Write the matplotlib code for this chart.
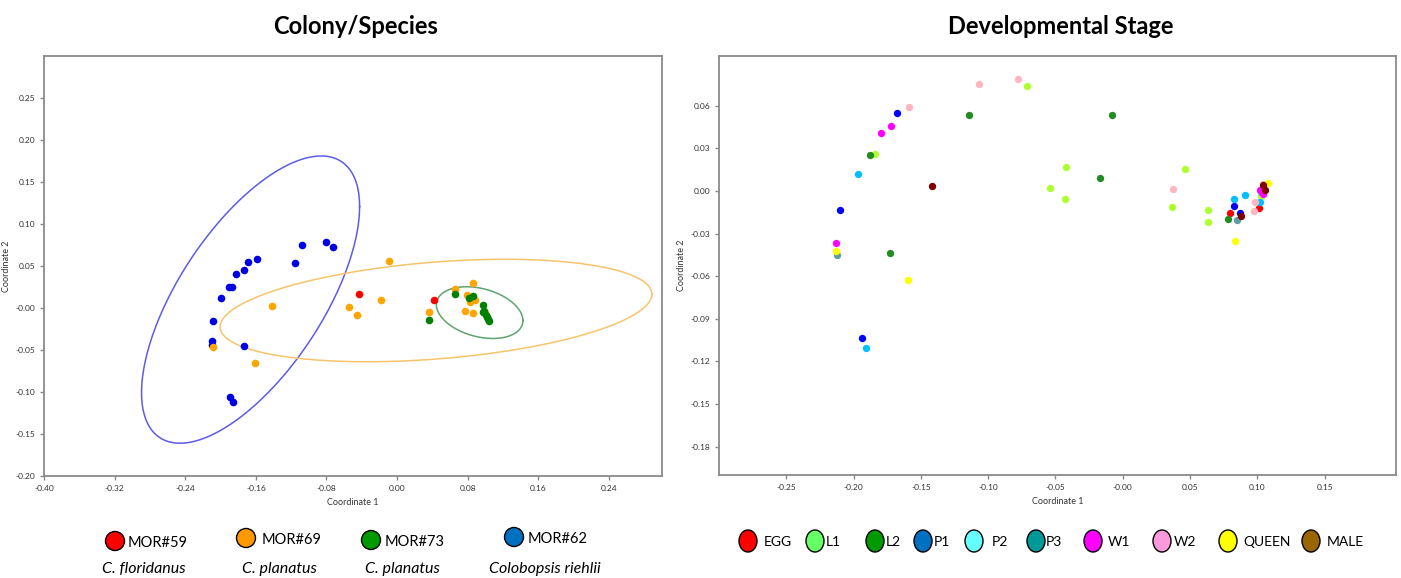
import numpy as np
import matplotlib
matplotlib.use("Agg")
import matplotlib.pyplot as plt
from matplotlib.patches import Ellipse

plt.rcParams['axes.unicode_minus'] = False
plt.rcParams['font.family'] = ['Lato', 'DejaVu Sans']

# ---- Colony/Species (left panel) ----
mor59_x = [-0.0435, 0.0413]
mor59_y = [0.0167, 0.010]
mor69_x = [-0.142, -0.208, -0.161, -0.0088, -0.0178, -0.054, -0.0453, 0.0357,
           0.065, 0.0858, 0.079, 0.082, 0.088, 0.0768, 0.0854, 0.099]
mor69_y = [0.0024, -0.047, -0.065, 0.056, 0.0095, 0.0008, -0.0079, -0.0043,
           0.023, 0.0294, 0.016, 0.007, 0.009, -0.004, -0.006, -0.006]
mor73_x = [0.065, 0.0357, 0.081, 0.0862, 0.0975, 0.0986, 0.097, 0.1006,
           0.1013, 0.103, 0.1043]
mor73_y = [0.0163, -0.0146, 0.0115, 0.014, 0.003, -0.003, -0.0048, -0.0087,
           -0.0107, -0.0127, -0.0155]
mor62_x = [-0.108, -0.080, -0.073, -0.116, -0.159, -0.169, -0.173, -0.182,
           -0.187, -0.191, -0.199, -0.208, -0.210, -0.210, -0.174, -0.189, -0.186]
mor62_y = [0.075, 0.078, 0.073, 0.0536, 0.058, 0.055, 0.0456, 0.041,
           0.025, 0.025, 0.0115, -0.0155, -0.039, -0.044, -0.045, -0.106, -0.112]

# 95% ellipses: centre and covariance
ell62_c = [-0.166, 0.010]
ell62_cov = [[0.01525, 0.01368], [0.01368, 0.02924]]
ell69_c = [0.044, -0.003]
ell69_cov = [[0.0598, 0.00477], [0.00477, 0.00372]]
ell73_c = [0.0935, -0.0055]
ell73_cov = [[0.0024, -0.00046], [-0.00046, 0.000949]]

# ---- Developmental stage (right panel) ----
egg_x = [0.0799, 0.101]
egg_y = [-0.0157, -0.012]
l1_x = [-0.1843, -0.0714, -0.042, -0.0539, -0.0432, 0.0462, 0.0368, 0.0635, 0.0635, 0.103]
l1_y = [0.0258, 0.0742, 0.0172, 0.0024, -0.0054, 0.0153, -0.011, -0.0134, -0.0218, -0.0035]
l2_x = [-0.1876, -0.173, -0.1143, -0.008, -0.0169, 0.078]
l2_y = [0.0251, -0.0434, 0.0538, 0.0533, 0.0089, -0.0201]
p1_x = [-0.168, -0.210, -0.1938, 0.0824, 0.0873]
p1_y = [0.055, -0.0134, -0.1037, -0.0108, -0.0155]
p2_x = [-0.1967, -0.1908, 0.0829, 0.091, 0.102]
p2_y = [0.0122, -0.1107, -0.0054, -0.003, -0.0075]
p3_x = [-0.2126, 0.0848, 0.1025]
p3_y = [-0.0448, -0.0204, -0.001]
w1_x = [-0.172, -0.1794, -0.2129, 0.102, 0.104]
w1_y = [0.0458, 0.041, -0.0366, 0.001, -0.0025]
w2_x = [-0.159, -0.107, -0.0776, 0.0371, 0.0985, 0.0977, 0.1064, 0.104]
w2_y = [0.059, 0.0751, 0.0786, 0.0014, -0.0077, -0.014, 0.0052, 0.0052]
queen_x = [-0.213, -0.1596, 0.0834, 0.108]
queen_y = [-0.0425, -0.0629, -0.0349, 0.0056]
male_x = [-0.142, 0.088, 0.1059, 0.1044]
male_y = [0.0035, -0.0173, 0.001, 0.0045]

colony_labels = ['MOR#59', 'MOR#69', 'MOR#73', 'MOR#62']
species_labels = ['C. floridanus', 'C. planatus', 'C. planatus', 'Colobopsis riehlii']
colony_legend_colors = ['#ff0000', '#ff9900', '#009900', '#0070c0']
stage_labels = ['EGG', 'L1', 'L2', 'P1', 'P2', 'P3', 'W1', 'W2', 'QUEEN', 'MALE']
stage_legend_colors = ['#ff0000', '#66ff66', '#009900', '#0070c0', '#66ffff',
                       '#009999', '#ff00ff', '#ff99dd', '#ffff00', '#996600']


def draw_ellipse(ax, c, cov, color):
    t = np.linspace(0, 2 * np.pi, 300)
    L = np.linalg.cholesky(np.array(cov))
    pts = np.array(c)[:, None] + L @ np.vstack([np.cos(t), np.sin(t)])
    ax.plot(pts[0], pts[1], color=color, lw=1.1, zorder=1)


def style_axes(ax):
    for s in ax.spines.values():
        s.set_color('#8a8a8a')
        s.set_linewidth(1.3)
    ax.tick_params(labelsize=6, colors='#8a8a8a', labelcolor='#333333',
                   length=3, width=1)
    ax.set_xlabel('Coordinate 1', fontsize=6.5, color='#333333', labelpad=4)
    ax.set_ylabel('Coordinate 2', fontsize=6.5, color='#333333', labelpad=3)


fig = plt.figure(figsize=(14.01, 5.78), dpi=100)

# left panel
ax1 = fig.add_axes([0.0314, 0.1765, 0.4411, 0.7266])
draw_ellipse(ax1, ell62_c, ell62_cov, '#5c5ce8')
draw_ellipse(ax1, ell69_c, ell69_cov, '#f7c46c')
draw_ellipse(ax1, ell73_c, ell73_cov, '#5fa36f')
s = 30
ax1.scatter(mor62_x, mor62_y, s=s, color='#0000e6', lw=0, zorder=3)
ax1.scatter(mor69_x, mor69_y, s=s, color='#ffa500', lw=0, zorder=3)
ax1.scatter(mor59_x, mor59_y, s=s, color='#ff0000', lw=0, zorder=3)
ax1.scatter(mor73_x, mor73_y, s=s, color='#008000', lw=0, zorder=3)
ax1.set_xlim(-0.40, 0.30)
ax1.set_ylim(-0.20, 0.30)
ax1.set_xticks(np.arange(-0.40, 0.25, 0.08))
ax1.set_yticks(np.arange(-0.20, 0.26, 0.05))
ax1.xaxis.set_major_formatter('{x:.2f}')
ax1.yaxis.set_major_formatter('{x:.2f}')
style_axes(ax1)

# right panel
ax2 = fig.add_axes([0.5132, 0.1782, 0.4832, 0.7249])
stage_groups = [(egg_x, egg_y, '#ff0000'), (l1_x, l1_y, '#adff2f'),
                (l2_x, l2_y, '#228b22'), (p1_x, p1_y, '#0000ff'),
                (p2_x, p2_y, '#00bfff'), (p3_x, p3_y, '#5f9ea0'),
                (w1_x, w1_y, '#ff00ff'), (w2_x, w2_y, '#ffb6c1'),
                (queen_x, queen_y, '#ffff00'), (male_x, male_y, '#800000')]
for gx, gy, col in stage_groups:
    ax2.scatter(gx, gy, s=28, color=col, lw=0, zorder=3)
ax2.set_xlim(-0.30, 0.203)
ax2.set_ylim(-0.20, 0.095)
ax2.set_xticks(np.arange(-0.25, 0.16, 0.05))
ax2.set_yticks(np.arange(-0.18, 0.07, 0.03))
ax2.xaxis.set_major_formatter('{x:.2f}')
ax2.yaxis.set_major_formatter('{x:.2f}')
style_axes(ax2)

# titles
fig.text(0.2535, 0.955, 'Colony/Species', ha='center', va='center',
         fontsize=17, fontweight='bold')
fig.text(0.757, 0.955, 'Developmental Stage', ha='center', va='center',
         fontsize=17, fontweight='bold')

# hand-made legends in pixel coordinates
lg = fig.add_axes([0, 0, 1, 1], zorder=-1)
lg.set_xlim(0, 1401)
lg.set_ylim(578, 0)
lg.axis('off')

col_circle_x = [115, 246, 371, 514]
col_text_x = [128, 262, 385, 528]
col_circle_y = [541, 538, 540, 537]
for cx, tx, cy, lab, col in zip(col_circle_x, col_text_x, col_circle_y,
                                colony_labels, colony_legend_colors):
    lg.add_patch(Ellipse((cx, cy), 19, 19, facecolor=col, edgecolor='black', lw=1))
    lg.text(tx, cy + 2, lab, fontsize=10.5, va='center', ha='left')
for sx, sp in zip([144, 279, 402, 545], species_labels):
    lg.text(sx, 569, sp, fontsize=11.5, style='italic', ha='center', va='center')

stage_circle_x = [748, 815, 875, 923, 974, 1036, 1093, 1162, 1228, 1311]
stage_text_x = [764, 826, 886, 934, 992, 1046, 1108, 1174, 1243, 1327]
for cx, tx, lab, col in zip(stage_circle_x, stage_text_x, stage_labels,
                            stage_legend_colors):
    lg.add_patch(Ellipse((cx, 541), 18, 22, facecolor=col, edgecolor='black', lw=1))
    lg.text(tx, 542, lab, fontsize=10, va='center', ha='left')

fig.savefig('out.png', dpi=100)
